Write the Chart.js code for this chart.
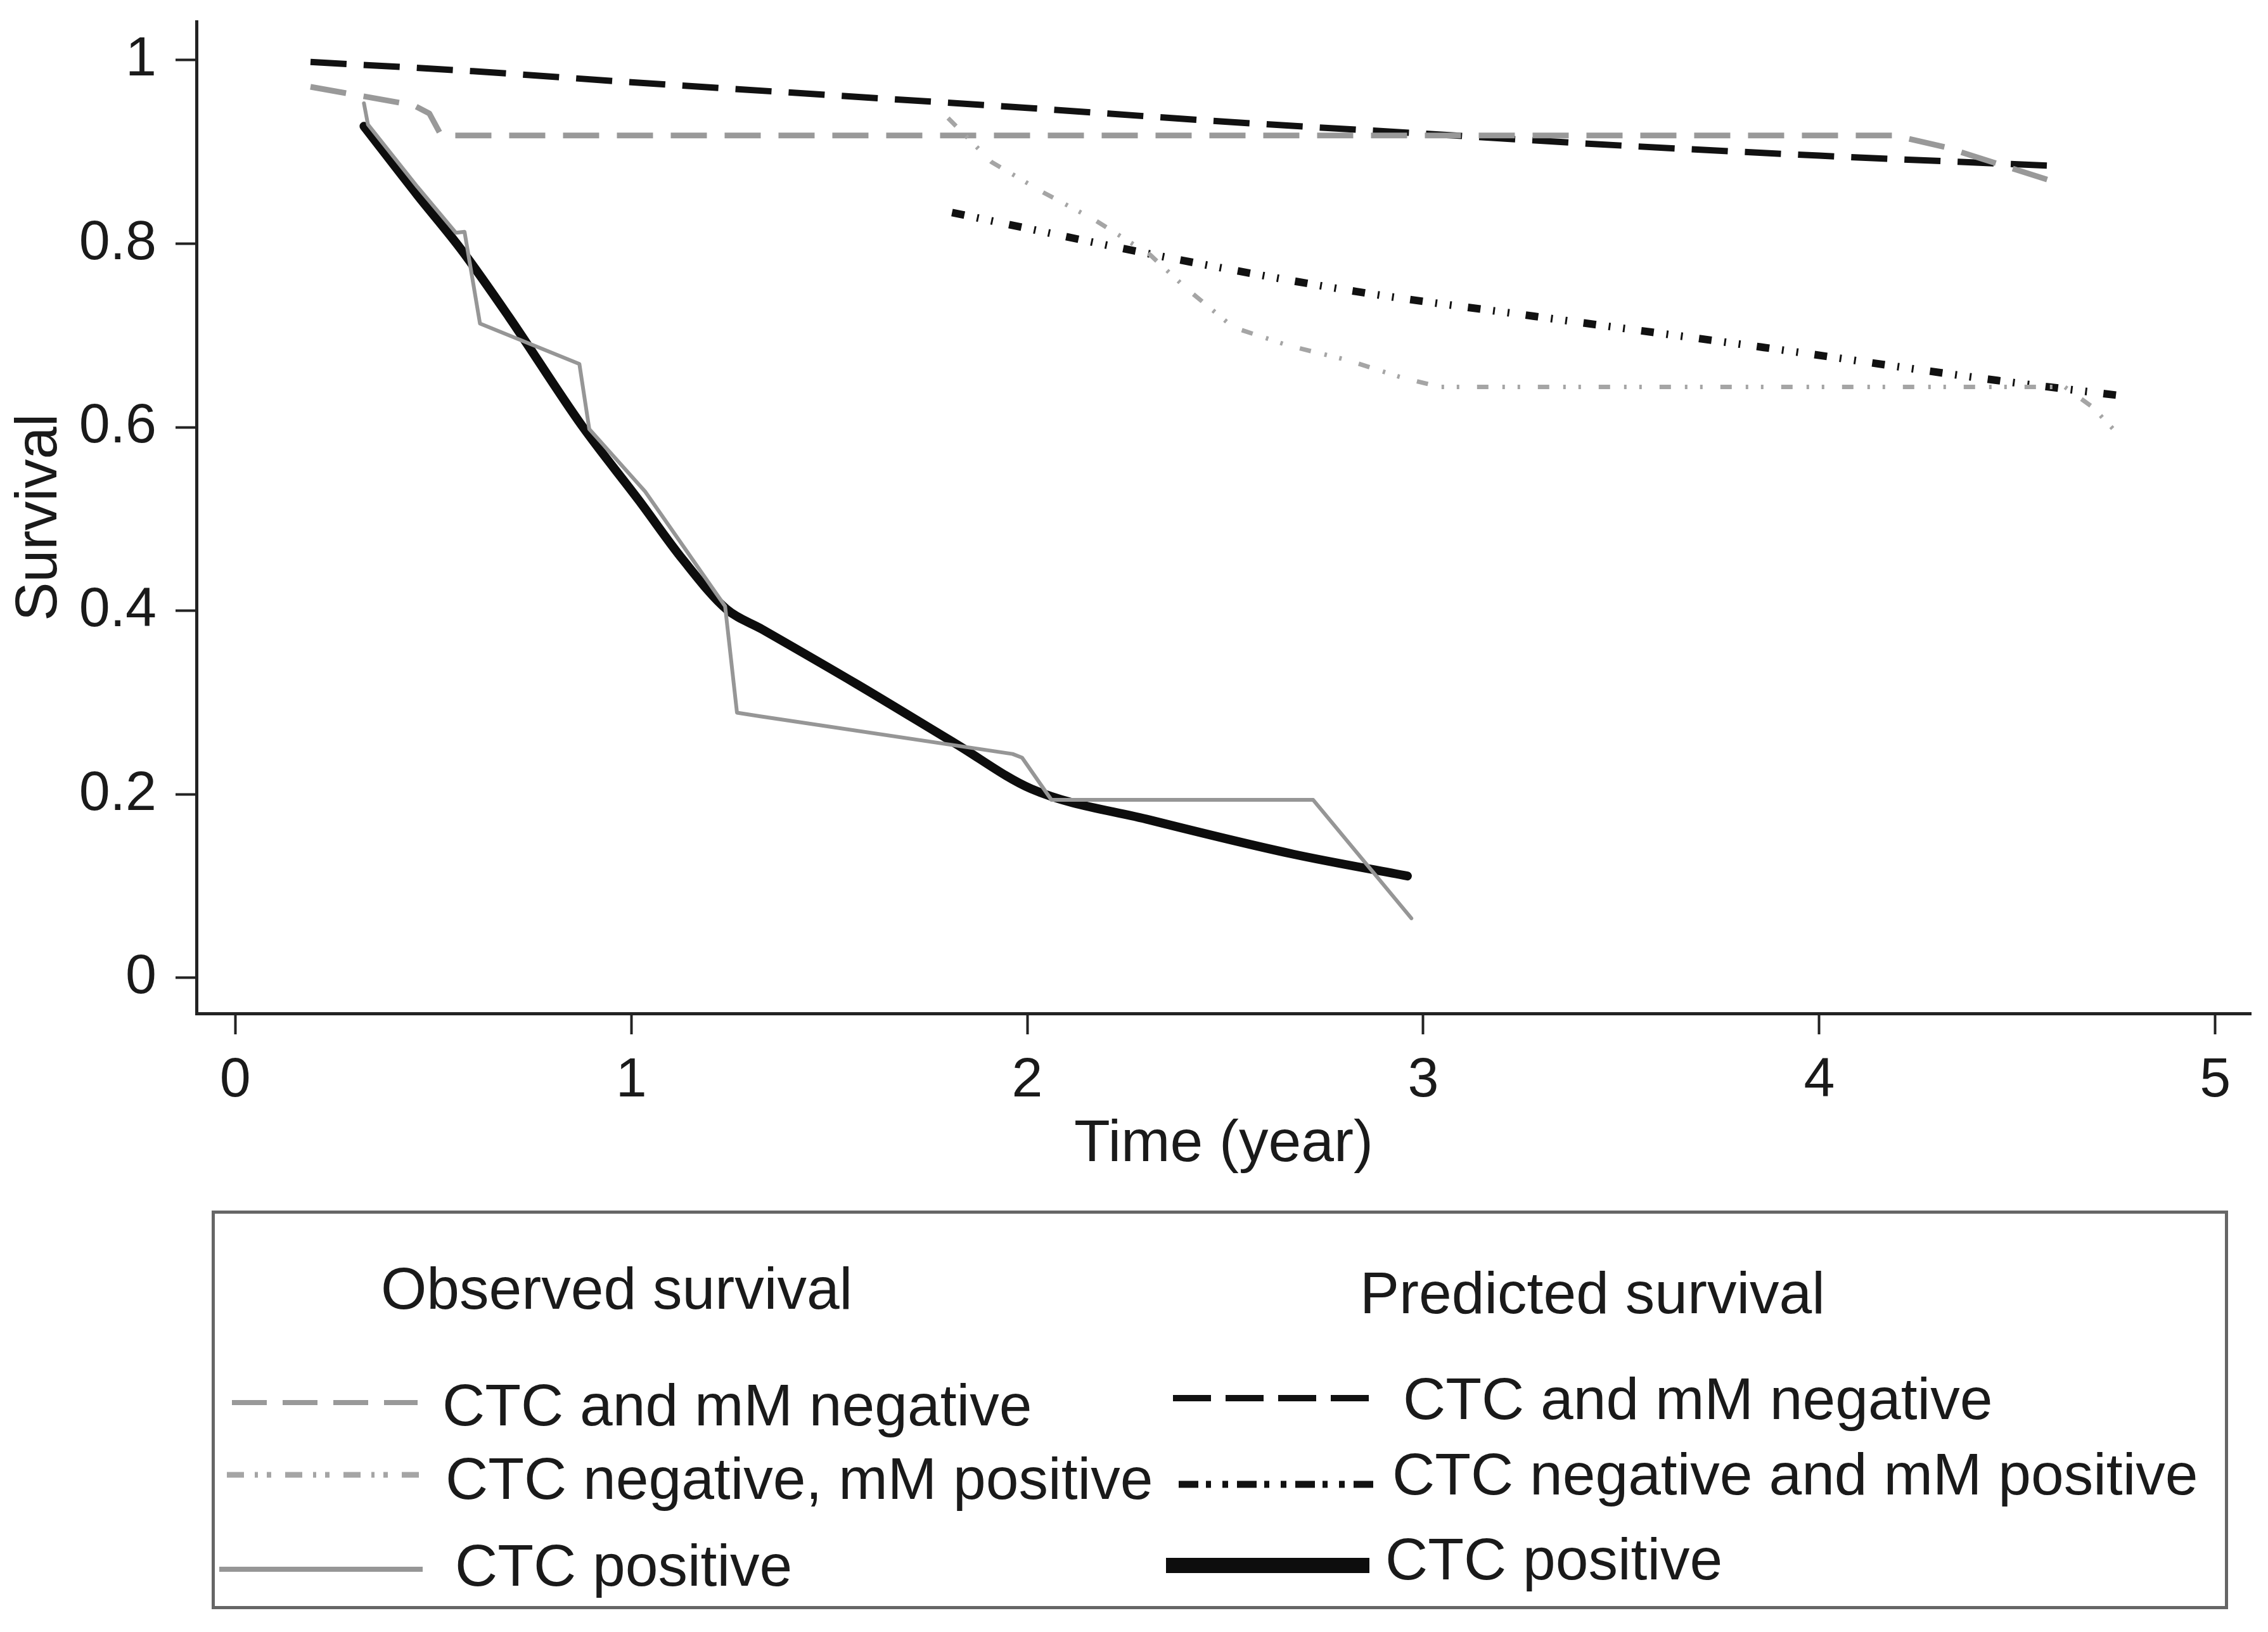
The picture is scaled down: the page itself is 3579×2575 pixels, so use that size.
<!DOCTYPE html>
<html>
<head>
<meta charset="utf-8">
<script src="https://cdn.jsdelivr.net/npm/chart.js@4.4.0/dist/chart.umd.min.js"></script>
<style>
html,body{margin:0;padding:0;background:#fff;}
body{width:3579px;height:2575px;position:relative;overflow:hidden;font-family:"Liberation Sans",Arial,Helvetica,sans-serif;color:#1a1a1a;}
#wrap{position:absolute;left:0;top:0;width:3579px;height:1900px;}
#legendBox{position:absolute;left:334px;top:1910px;width:3182px;height:629px;box-sizing:border-box;border:5px solid #666;}
.lt{position:absolute;font-size:93px;line-height:1.2;white-space:nowrap;color:#1a1a1a;}
#samples{position:absolute;left:0;top:0;}
</style>
</head>
<body>
<div id="wrap"><canvas id="c" width="3579" height="1900" style="width:3579px;height:1900px;"></canvas></div>
<div id="legendBox"></div>
<svg id="samples" width="3579" height="2575" xmlns="http://www.w3.org/2000/svg"></svg>
<script>
// ---- tick labels ----
const xTicks = [0, 1, 2, 3, 4, 5];
const yTicks = [0, 0.2, 0.4, 0.6, 0.8, 1];

// ---- Observed survival ----
const obsNegTime = [0.19, 0.45, 0.49, 0.52, 4.19, 4.32, 4.59];
const obsNegSurv = [0.971, 0.951, 0.942, 0.918, 0.918, 0.905, 0.868];

const obsMmTime = [1.80, 1.91, 2.04, 2.17, 2.31, 2.40, 2.52, 2.66, 2.81, 2.94, 3.04, 4.62, 4.69, 4.76];
const obsMmSurv = [0.937, 0.889, 0.856, 0.826, 0.788, 0.752, 0.709, 0.689, 0.673, 0.655, 0.644, 0.644, 0.622, 0.590];

const obsPosTime = [0.325, 0.335, 0.46, 0.557, 0.579, 0.618, 0.869, 0.894, 1.035, 1.237, 1.267, 1.326, 1.963, 1.987, 2.061, 2.722, 2.97];
const obsPosSurv = [0.953, 0.93, 0.862, 0.812, 0.813, 0.713, 0.669, 0.598, 0.530, 0.405, 0.289, 0.285, 0.244, 0.240, 0.194, 0.194, 0.065];

// ---- Predicted survival ----
const predNegTime = [0.19, 0.6, 1.0, 1.5, 2.0, 2.5, 3.0, 3.5, 4.0, 4.58];
const predNegSurv = [0.998, 0.988, 0.976, 0.962, 0.948, 0.933, 0.920, 0.907, 0.896, 0.885];

const predMmTime = [1.81, 2.39, 2.83, 3.28, 3.86, 4.45, 4.77];
const predMmSurv = [0.834, 0.782, 0.748, 0.721, 0.687, 0.651, 0.634];

const predPosTime = [0.325, 0.46, 0.57, 0.69, 0.875, 1.02, 1.13, 1.24, 1.33, 1.57, 1.82, 2.01, 2.31, 2.67, 2.96];
const predPosSurv = [0.928, 0.853, 0.794, 0.721, 0.602, 0.52, 0.456, 0.402, 0.38, 0.32, 0.255, 0.206, 0.172, 0.135, 0.111];

// ---- legend text ----
const legendHeadings = ['Observed survival', 'Predicted survival'];
const legendObserved = ['CTC and mM negative', 'CTC negative, mM positive', 'CTC positive'];
const legendPredicted = ['CTC and mM negative', 'CTC negative and mM positive', 'CTC positive'];
const xTitle = 'Time (year)';
const yTitle = 'Survival';

function pts(t, s) { return t.map((v, i) => ({x: v, y: s[i]})); }

const styles = {
  obsNeg:  {color: '#999999', width: 9,  dash: [57, 28]},
  obsMm:   {color: '#a5a5a5', width: 7,  dash: [18, 22, 4, 20, 4, 28]},
  obsPos:  {color: '#969696', width: 6,  dash: []},
  predNeg: {color: '#111111', width: 10, dash: [57, 27]},
  predMm:  {color: '#111111', width: 12, dash: [20, 20, 3, 20, 3, 26]},
  predPos: {color: '#0d0d0d', width: 14, dash: []}
};

function ds(label, data, st, cap, smooth) {
  const d = {
    label: label, data: data, borderColor: st.color, borderWidth: st.width,
    borderDash: st.dash, borderCapStyle: cap || 'butt', borderJoinStyle: 'round',
    pointRadius: 0, fill: false, tension: 0
  };
  if (smooth) { d.cubicInterpolationMode = 'monotone'; }
  return d;
}

const datasets = [
  ds('Observed: ' + legendObserved[2], pts(obsPosTime, obsPosSurv), styles.obsPos, 'round'),
  ds('Observed: ' + legendObserved[1], pts(obsMmTime, obsMmSurv), styles.obsMm),
  ds('Observed: ' + legendObserved[0], pts(obsNegTime, obsNegSurv), styles.obsNeg),
  ds('Predicted: ' + legendPredicted[0], pts(predNegTime, predNegSurv), styles.predNeg, 'butt', true),
  ds('Predicted: ' + legendPredicted[1], pts(predMmTime, predMmSurv), styles.predMm, 'butt', true),
  ds('Predicted: ' + legendPredicted[2], pts(predPosTime, predPosSurv), styles.predPos, 'round', true)
];

const FONT = '"Liberation Sans", Arial, Helvetica, sans-serif';
const INK = '#1a1a1a';
const AXIS = '#222222';

new Chart(document.getElementById('c').getContext('2d'), {
  type: 'line',
  data: {datasets: datasets},
  options: {
    responsive: false,
    animation: false,
    devicePixelRatio: 1,
    layout: {padding: {left: 0, top: 34, right: 27, bottom: 0}},
    plugins: {legend: {display: false}, tooltip: {enabled: false}},
    scales: {
      x: {
        type: 'linear', min: -0.098, max: 5.09,
        afterBuildTicks: s => { s.ticks = xTicks.map(v => ({value: v})); },
        afterFit: s => { s.height = 301; s.paddingLeft = 0; s.paddingRight = 0; },
        grid: {display: true, drawOnChartArea: false, drawTicks: true, tickLength: 33, tickColor: AXIS, tickWidth: 4},
        border: {display: true, color: AXIS, width: 5},
        ticks: {font: {family: FONT, size: 88}, color: INK, padding: 21, maxRotation: 0, callback: v => String(v)},
        title: {display: true, text: xTitle, font: {family: FONT, size: 93}, color: INK, padding: {top: 0, bottom: 38}}
      },
      y: {
        type: 'linear', min: -0.0387, max: 1.0421,
        afterBuildTicks: s => { s.ticks = yTicks.map(v => ({value: v})); },
        afterFit: s => { s.width = 310; s.paddingTop = 0; s.paddingBottom = 0; },
        grid: {display: true, drawOnChartArea: false, drawTicks: true, tickLength: 33, tickColor: AXIS, tickWidth: 4},
        border: {display: true, color: AXIS, width: 5},
        ticks: {font: {family: FONT, size: 88}, color: INK, padding: 30, callback: v => String(Math.round(v * 10) / 10)},
        title: {display: true, text: yTitle, font: {family: FONT, size: 92}, color: INK, padding: {top: 8, bottom: 0}}
      }
    }
  }
});

// ---- legend (HTML text + SVG samples) ----
const FS = 93;
function addText(txt, left, capCenter) {
  const d = document.createElement('div');
  d.className = 'lt';
  d.textContent = txt;
  d.style.left = left + 'px';
  d.style.top = (capCenter - 0.5885 * FS) + 'px';
  document.body.appendChild(d);
}
addText(legendHeadings[0], 601, 2033);
addText(legendHeadings[1], 2146, 2040);
const obsTextPos = [[698, 2217], [703, 2333], [718, 2470]];
const predTextPos = [[2214, 2207], [2197, 2326], [2186, 2460]];
legendObserved.forEach((t, i) => addText(t, obsTextPos[i][0], obsTextPos[i][1]));
legendPredicted.forEach((t, i) => addText(t, predTextPos[i][0], predTextPos[i][1]));

const svg = document.getElementById('samples');
function sample(x1, x2, y, color, width, dash) {
  const l = document.createElementNS('http://www.w3.org/2000/svg', 'line');
  l.setAttribute('x1', x1); l.setAttribute('x2', x2);
  l.setAttribute('y1', y); l.setAttribute('y2', y);
  l.setAttribute('stroke', color); l.setAttribute('stroke-width', width);
  if (dash) l.setAttribute('stroke-dasharray', dash);
  svg.appendChild(l);
}
sample(366, 659, 2213, styles.obsNeg.color, 8, '55 25');
sample(358, 662, 2327, styles.obsMm.color, 9, '27 17 5 14 7 22');
sample(346, 667, 2476, styles.obsPos.color, 8, null);
sample(1851, 2161, 2206, styles.predNeg.color, 10, '60 23');
sample(1860, 2170, 2342, styles.predMm.color, 11, '31 12 8 18 9 14');
sample(1840, 2161, 2470, styles.predPos.color, 24, null);
</script>
</body>
</html>
